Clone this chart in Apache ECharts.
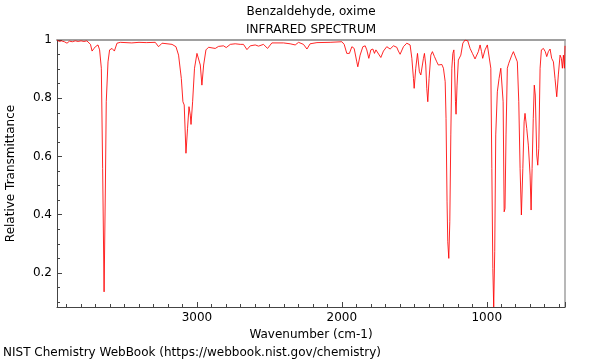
<!DOCTYPE html>
<html>
<head>
<meta charset="utf-8">
<script src="https://cdn.jsdelivr.net/npm/echarts@6/dist/echarts.min.js"></script>
<style>
html,body{margin:0;padding:0;background:#fff;}
#chart{width:600px;height:360px;}
</style>
</head>
<body>
<div id="chart"></div>
<script>
const titleLines = ['Benzaldehyde, oxime', 'INFRARED SPECTRUM'];
const footerText = 'NIST Chemistry WebBook (https://webbook.nist.gov/chemistry)';
const xAxisName = 'Wavenumber (cm-1)';
const yAxisName = 'Relative Transmittance';
const xRange = [460, 3966];
const yRange = [0.083, 1];

const wavenumbers = [
  3966, 3950, 3935, 3915, 3897, 3880, 3860, 3840, 3820, 3800,
  3780, 3760, 3748, 3735, 3724, 3712, 3701, 3690, 3683, 3672,
  3660, 3651, 3641, 3632, 3626, 3614, 3603, 3586, 3570, 3552,
  3529, 3450, 3400, 3350, 3288, 3265, 3241, 3172, 3145, 3127,
  3108, 3097, 3088, 3076, 3065, 3055, 3046, 3041, 3030, 3017,
  3000, 2989, 2977, 2966, 2954, 2938, 2920, 2874, 2851, 2817,
  2798, 2770, 2736, 2701, 2679, 2655, 2632, 2598, 2575, 2541,
  2513, 2483, 2403, 2357, 2322, 2299, 2265, 2241, 2219, 2172,
  2081, 2000, 1984, 1966, 1948, 1931, 1915, 1897, 1890, 1874,
  1855, 1839, 1828, 1814, 1800, 1786, 1775, 1765, 1752, 1731,
  1713, 1690, 1667, 1644, 1632, 1621, 1610, 1598, 1575, 1552,
  1529, 1517, 1506, 1501, 1490, 1478, 1472, 1465, 1455, 1448,
  1437, 1430, 1421, 1414, 1407, 1398, 1386, 1375, 1361, 1345,
  1334, 1322, 1310, 1299, 1287, 1281, 1274, 1269, 1262, 1255,
  1248, 1241, 1234, 1227, 1223, 1216, 1212, 1205, 1196, 1189,
  1179, 1165, 1150, 1131, 1115, 1099, 1081, 1069, 1058, 1046,
  1036, 1028, 1012, 996, 984, 972, 965, 958, 952, 945,
  938, 927, 915, 903, 894, 887, 880, 874, 867, 858,
  848, 839, 827, 816, 803, 789, 779, 770, 761, 751,
  742, 736, 724, 713, 701, 694, 687, 679, 672, 665,
  655, 648, 641, 632, 623, 609, 596, 586, 575, 563,
  552, 540, 529, 517, 506, 494, 485, 478, 471, 464,
  462, 460
];

const transmittance = [
  1.0, 0.995, 0.997, 0.994, 0.989, 0.996, 0.994, 0.997, 0.995, 0.997,
  0.995, 0.997, 0.997, 0.985, 0.962, 0.970, 0.977, 0.982, 0.983, 0.966,
  0.903, 0.559, 0.135, 0.502, 0.788, 0.925, 0.966, 0.971, 0.962, 0.989,
  0.992, 0.990, 0.992, 0.991, 0.992, 0.977, 0.989, 0.985, 0.977, 0.948,
  0.868, 0.788, 0.777, 0.611, 0.697, 0.771, 0.742, 0.710, 0.788, 0.903,
  0.954, 0.948, 0.914, 0.845, 0.914, 0.966, 0.975, 0.971, 0.978, 0.980,
  0.974, 0.985, 0.987, 0.985, 0.985, 0.967, 0.980, 0.983, 0.979, 0.985,
  0.971, 0.990, 0.990, 0.987, 0.983, 0.992, 0.985, 0.969, 0.987, 0.991,
  0.992, 0.994, 0.985, 0.954, 0.954, 0.977, 0.971, 0.925, 0.908, 0.948,
  0.977, 0.980, 0.966, 0.937, 0.966, 0.969, 0.954, 0.966, 0.962, 0.940,
  0.962, 0.977, 0.969, 0.980, 0.985, 0.975, 0.962, 0.951, 0.977, 0.989,
  0.983, 0.937, 0.868, 0.834, 0.903, 0.954, 0.948, 0.891, 0.880, 0.885,
  0.937, 0.954, 0.914, 0.834, 0.788, 0.868, 0.948, 0.960, 0.943, 0.925,
  0.914, 0.908, 0.916, 0.903, 0.857, 0.731, 0.444, 0.307, 0.250, 0.376,
  0.674, 0.903, 0.954, 0.966, 0.925, 0.788, 0.745, 0.845, 0.931, 0.937,
  0.948, 0.989, 1.0, 0.997, 0.971, 0.954, 0.935, 0.937, 0.960, 0.983,
  0.960, 0.937, 0.966, 0.983, 0.977, 0.903, 0.559, 0.215, 0.083, 0.273,
  0.674, 0.822, 0.868, 0.903, 0.903, 0.788, 0.410, 0.421, 0.674, 0.903,
  0.920, 0.914, 0.948, 0.960, 0.957, 0.925, 0.788, 0.559, 0.399, 0.559,
  0.719, 0.748, 0.696, 0.639, 0.536, 0.416, 0.559, 0.731, 0.845, 0.811,
  0.605, 0.570, 0.628, 0.903, 0.966, 0.971, 0.960, 0.943, 0.960, 0.969,
  0.937, 0.925, 0.868, 0.805, 0.880, 0.948, 0.937, 0.903, 0.948, 0.903,
  0.900, 0.980
];

const FONT = "'DejaVu Sans', sans-serif";
const axisDark = '#444';
const frameGray = '#a0a0a0';

const chart = echarts.init(document.getElementById('chart'), null, {renderer: 'canvas'});
const points = wavenumbers.map((w, i) => [w, transmittance[i]]);

chart.setOption({
  animation: false,
  backgroundColor: '#fff',
  textStyle: {fontFamily: FONT},
  grid: {left: 57, right: 35, top: 40, bottom: 53, containLabel: false, outerBoundsMode: 'none'},
  graphic: [
    {type: 'text', x: 311, y: 12, style: {text: titleLines[0], font: "12px 'DejaVu Sans'", fill: '#000', align: 'center', verticalAlign: 'middle', textAlign: 'center', textVerticalAlign: 'middle'}},
    {type: 'text', x: 311, y: 30, style: {text: titleLines[1], font: "12px 'DejaVu Sans'", fill: '#000', align: 'center', verticalAlign: 'middle', textAlign: 'center', textVerticalAlign: 'middle'}},
    {type: 'text', x: 3, y: 353, style: {text: footerText, font: "12px 'DejaVu Sans'", fill: '#000', align: 'left', verticalAlign: 'middle', textAlign: 'left', textVerticalAlign: 'middle'}}
  ],
  xAxis: [
    {
      type: 'value', position: 'bottom', inverse: true,
      min: xRange[0], max: xRange[1],
      name: xAxisName, nameLocation: 'middle', nameGap: 19,
      nameTextStyle: {fontFamily: FONT, fontSize: 12, color: '#000'},
      axisLine: {show: true, lineStyle: {color: axisDark, width: 1}},
      axisTick: {show: true, inside: true, length: 5, lineStyle: {color: axisDark}},
      minorTick: {show: true, splitNumber: 10, length: 3, lineStyle: {color: axisDark}},
      axisLabel: {fontFamily: FONT, fontSize: 12, color: '#000', margin: 5, showMinLabel: false, showMaxLabel: false,
        formatter: v => String(Math.round(v))},
      splitLine: {show: false}, minorSplitLine: {show: false}
    },
    {
      type: 'value', position: 'top', inverse: true,
      min: xRange[0], max: xRange[1],
      axisLine: {show: true, lineStyle: {color: frameGray, width: 2}},
      axisTick: {show: false}, axisLabel: {show: false}, splitLine: {show: false}
    }
  ],
  yAxis: [
    {
      type: 'value', position: 'left',
      min: yRange[0], max: yRange[1],
      name: yAxisName, nameLocation: 'middle', nameGap: 40, nameRotate: 90,
      nameTextStyle: {fontFamily: FONT, fontSize: 12, color: '#000'},
      axisLine: {show: true, lineStyle: {color: axisDark, width: 1}},
      axisTick: {show: true, inside: true, length: 5, lineStyle: {color: axisDark}},
      minorTick: {show: true, splitNumber: 4, length: 3, lineStyle: {color: axisDark}},
      axisLabel: {fontFamily: FONT, fontSize: 12, color: '#000', margin: 5, showMinLabel: false, showMaxLabel: true,
        formatter: v => String(Math.round(v * 10) / 10)},
      splitLine: {show: false}, minorSplitLine: {show: false}
    },
    {
      type: 'value', position: 'right',
      min: yRange[0], max: yRange[1],
      axisLine: {show: true, lineStyle: {color: frameGray, width: 1.5}},
      axisTick: {show: false}, axisLabel: {show: false}, splitLine: {show: false}
    }
  ],
  series: [{
    type: 'line',
    xAxisIndex: 0, yAxisIndex: 0,
    data: points,
    showSymbol: false,
    symbol: 'none',
    smooth: false,
    clip: true,
    lineStyle: {color: 'rgba(255,0,0,0.85)', width: 1},
    z: 1
  }]
});
</script>
</body>
</html>
